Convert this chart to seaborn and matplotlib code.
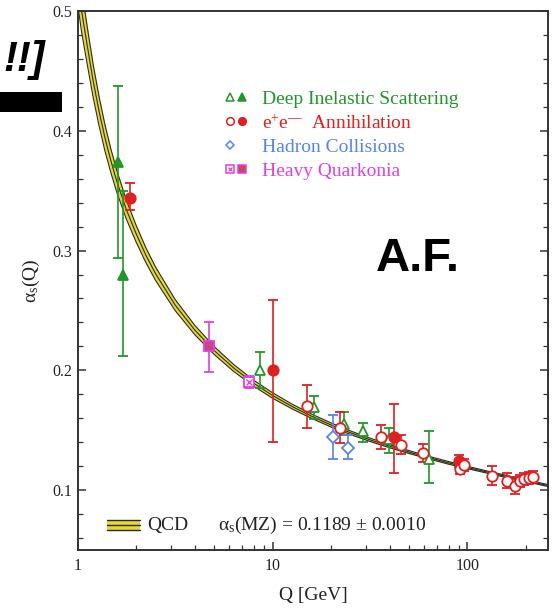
import numpy as np
import pandas as pd
import seaborn as sns
import matplotlib
matplotlib.use("Agg")
import matplotlib.pyplot as plt
from matplotlib.patches import Rectangle
from matplotlib.ticker import MultipleLocator, NullFormatter, LogLocator

# ---------------- data ----------------
# QCD band: centre value and half width
q_curve = [1.0, 1.047, 1.122, 1.202, 1.288, 1.380, 1.479, 1.585, 1.778, 1.995, 2.239,
           2.512, 3.162, 3.981, 5.012, 6.310, 7.943, 10.0, 12.59, 15.85, 19.95, 25.12,
           31.62, 39.81, 50.12, 63.10, 79.43, 100.0, 125.9, 158.5, 199.5, 263.0]
alpha_curve = [0.525, 0.500, 0.470, 0.441, 0.416, 0.394, 0.375, 0.358, 0.334, 0.314,
               0.296, 0.2805, 0.2545, 0.2338, 0.2166, 0.2020, 0.1896, 0.1790, 0.1698,
               0.1617, 0.1544, 0.1479, 0.1420, 0.1367, 0.1318, 0.1272, 0.1229, 0.1189,
               0.1151, 0.1114, 0.1078, 0.1036]
band_half = [0.0195, 0.0177, 0.0156, 0.0137, 0.0122, 0.0110, 0.0099, 0.0091, 0.0079,
             0.0070, 0.0062, 0.0056, 0.0046, 0.0039, 0.0033, 0.0029, 0.0025, 0.0023,
             0.0020, 0.0018, 0.0017, 0.0015, 0.0014, 0.0013, 0.0012, 0.0011, 0.0011,
             0.0010, 0.0009, 0.0009, 0.0008, 0.0008]

# Deep inelastic scattering
dis_f_q = [1.6, 1.70]
dis_f_a = [0.374, 0.280]
dis_f_lo = [0.080, 0.068]
dis_f_hi = [0.063, 0.070]
dis_o_q = [8.65, 16.4, 23.2, 29.2, 39.6, 63.7]
dis_o_a = [0.200, 0.169, 0.155, 0.149, 0.1425, 0.126]
dis_o_lo = [0.015, 0.010, 0.009, 0.009, 0.0115, 0.020]
dis_o_hi = [0.015, 0.010, 0.010, 0.007, 0.0095, 0.023]

# e+e- annihilation
ee_f_q = [1.86, 10.1, 41.8, 90.0]
ee_f_a = [0.344, 0.200, 0.144, 0.124]
ee_f_lo = [0.010, 0.060, 0.030, 0.005]
ee_f_hi = [0.012, 0.059, 0.028, 0.005]
ee_o_q = [15.1, 22.3, 36.0, 45.4, 59.2, 91.5, 96, 134, 160, 176, 186, 196, 206, 217]
ee_o_a = [0.170, 0.152, 0.144, 0.138, 0.131, 0.1175, 0.121, 0.112, 0.108, 0.1036,
          0.108, 0.109, 0.110, 0.1106]
ee_o_err = [0.018, 0.013, 0.010, 0.008, 0.0075, 0.004, 0.005, 0.008, 0.006, 0.007,
            0.005, 0.005, 0.005, 0.005]

# Hadron collisions
had_q = [20.3, 24.5]
had_a = [0.144, 0.135]
had_lo = [0.018, 0.009]
had_hi = [0.0185, 0.011]

# Heavy quarkonia
hq_x_q = [7.6]
hq_x_a = [0.190]
hq_x_err = [0.005]
hq_f_q = [4.7]
hq_f_a = [0.220]
hq_f_lo = [0.021]
hq_f_hi = [0.020]

legend_labels = ["Deep Inelastic Scattering", "Annihilation", "Hadron Collisions",
                 "Heavy Quarkonia"]
x_ticks = [1, 10, 100]
x_ticklabels = ["1", "10", "100"]
y_ticks = [0.1, 0.2, 0.3, 0.4, 0.5]
y_ticklabels = ["0.1", "0.2", "0.3", "0.4", "0.5"]

# ---------------- style ----------------
sns.set_theme(style="ticks")
plt.rcParams["font.family"] = ["Liberation Serif", "DejaVu Serif"]
plt.rcParams["mathtext.fontset"] = "custom"
plt.rcParams["mathtext.rm"] = "Liberation Serif"
plt.rcParams["mathtext.it"] = "Liberation Serif:italic"

GREEN = "#22962a"
RED = "#dd2020"
BLUE = "#5585e8"
MAG = "#e040e0"
YELLOW = "#e6d832"
DARK = "#2a2a2a"

fig = plt.figure(figsize=(5.54, 6.11), dpi=100)
ax = fig.add_axes([0.1403, 0.0998, 0.8495, 0.8822])

# ---------------- QCD band ----------------
curve = pd.DataFrame({"Q": q_curve, "a": alpha_curve, "h": band_half})
curve["lo"] = curve["a"] - curve["h"]
curve["hi"] = curve["a"] + curve["h"]
ax.fill_between(curve["Q"], curve["lo"], curve["hi"], color=YELLOW, lw=0, zorder=2)
for col in ["lo", "hi", "a"]:
    sns.lineplot(data=curve, x="Q", y=col, ax=ax, color=DARK, lw=0.8,
                 estimator=None, sort=False, zorder=3)

# ---------------- data points ----------------
eb = dict(ls="none", elinewidth=1.2, capsize=3.5, capthick=1.2, zorder=5)


def pts(q, a, lo, hi, color, marker, filled, ms=7.5, fc=None):
    ax.errorbar(q, a, yerr=[lo, hi], color=color, marker=marker, ms=ms,
                mec=color, mew=1.3,
                mfc=(fc if fc else (color if filled else "white")), **eb)


pts(dis_f_q, dis_f_a, dis_f_lo, dis_f_hi, GREEN, "^", True)
pts(dis_o_q, dis_o_a, dis_o_lo, dis_o_hi, GREEN, "^", False)
pts(ee_f_q, ee_f_a, ee_f_lo, ee_f_hi, RED, "o", True)
pts(ee_o_q, ee_o_a, ee_o_err, ee_o_err, RED, "o", False)
pts(had_q, had_a, had_lo, had_hi, BLUE, "D", False, ms=6)
pts(hq_f_q, hq_f_a, hq_f_lo, hq_f_hi, MAG, "s", True, ms=7, fc="#cc4488")
pts(hq_x_q, hq_x_a, hq_x_err, hq_x_err, MAG, "s", False, ms=7)
ax.plot(hq_x_q, hq_x_a, ls="none", marker="x", ms=4.5, mew=1.0, color=MAG, zorder=6)

# ---------------- axes ----------------
ax.set_xscale("log")
ax.set_xlim(1, 260)
ax.set_ylim(0.05, 0.5)
ax.set_xticks(x_ticks)
ax.set_xticklabels(x_ticklabels)
ax.xaxis.set_minor_locator(LogLocator(base=10, subs=np.arange(2, 10)))
ax.xaxis.set_minor_formatter(NullFormatter())
ax.set_yticks(y_ticks)
ax.set_yticklabels(y_ticklabels)
ax.yaxis.set_minor_locator(MultipleLocator(0.02))
ax.tick_params(which="both", direction="in", left=True, right=True, top=False,
               bottom=True, colors="#333333", labelcolor="#222222")
ax.tick_params(which="major", length=6, width=1.1, labelsize=11.5)
ax.tick_params(axis="y", which="major", pad=4)
ax.tick_params(axis="x", which="major", pad=6)
ax.tick_params(which="minor", length=3.5, width=0.9)
for s in ax.spines.values():
    s.set_color("#333333")
    s.set_linewidth(1.4)
    s.set_visible(True)

ax.set_xlabel("Q [GeV]", fontsize=14, color="#222222")
ax.set_ylabel("α$_{\\rm s}$(Q)", fontsize=14, color="#222222")
ax.xaxis.set_label_coords(0.5, -0.068)
ax.yaxis.set_label_coords(-0.076, 0.5)
ax.grid(False)

# ---------------- legend (top) ----------------
T = ax.transAxes
rows_y = [0.840, 0.795, 0.751, 0.706]
mx1, mx2, tx = 0.323, 0.350, 0.392
lm = dict(ls="none", transform=T, clip_on=False, ms=5.5, mew=1.1, zorder=7)
ax.plot([mx1], [rows_y[0]], marker="^", color=GREEN, mfc="white", **lm)
ax.plot([mx2], [rows_y[0]], marker="^", color=GREEN, mfc=GREEN, **lm)
ax.plot([mx1], [rows_y[1]], marker="o", color=RED, mfc="white", **lm)
ax.plot([mx2], [rows_y[1]], marker="o", color=RED, mfc=RED, **lm)
ax.plot([mx1], [rows_y[2]], marker="D", color=BLUE, mfc="white",
        **{**lm, "ms": 4.5})
ax.plot([mx1], [rows_y[3]], marker="s", color=MAG, mfc="white", **lm)
ax.plot([mx1], [rows_y[3]], marker="x", color=MAG, **{**lm, "ms": 3.5, "mew": 0.9})
ax.plot([mx2], [rows_y[3]], marker="s", color=MAG, mfc="#cc4466", **lm)

tdy = 0.004
ax.text(tx, rows_y[0] - tdy, legend_labels[0], color=GREEN, fontsize=14,
        va="center", transform=T)
ax.text(tx, rows_y[1] - tdy, "e$^{+}$e$^{\u2014}$  " + legend_labels[1], color=RED,
        fontsize=14, va="center", transform=T)
ax.text(tx, rows_y[2] - tdy, legend_labels[2], color=BLUE, fontsize=14, va="center",
        transform=T)
ax.text(tx, rows_y[3] - tdy, legend_labels[3], color=MAG, fontsize=14, va="center",
        transform=T)

# ---------------- legend (bottom, QCD band) ----------------
by = 0.0464
ax.add_patch(Rectangle((0.0613, by - 0.0095), 0.071, 0.019, transform=T,
                       color=YELLOW, lw=0, zorder=7))
for dy in (-0.0095, 0.0, 0.0095):
    ax.plot([0.0613, 0.1323], [by + dy, by + dy], color=DARK, lw=1.0,
            transform=T, zorder=8)
ax.text(0.147, by, "QCD", fontsize=14, va="center", color="#222222", transform=T)
ax.text(0.298, by, "α$_{\\rm s}$(MZ) = 0.1189 ± 0.0010", fontsize=14, va="center",
        color="#222222", transform=T)

# ---------------- overlays on the screenshot ----------------
fig.text(45 / 554, 1 - 71 / 611, "!!]", fontsize=30, weight="bold", style="italic",
         family="Liberation Sans", ha="right", va="baseline", color="black")
fig.add_artist(Rectangle((0, 1 - 112 / 611), 62 / 554, 20 / 611,
                         transform=fig.transFigure, color="black", lw=0))
fig.text(376 / 554, 1 - 271 / 611, "A.F.", fontsize=34, weight="bold",
         family="Liberation Sans", va="baseline", color="black")

fig.savefig("out.png", dpi=100)
